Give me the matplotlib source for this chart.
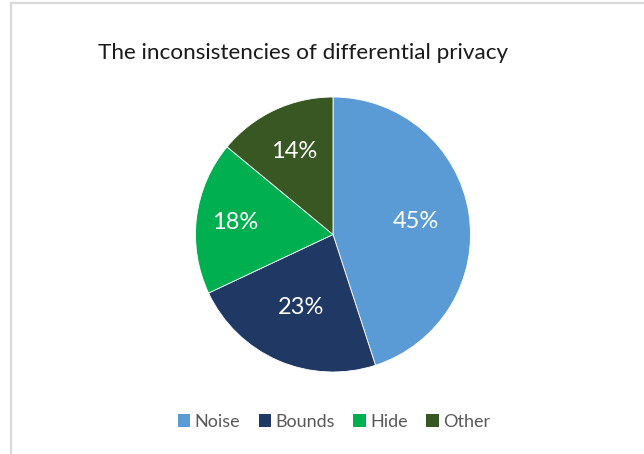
import matplotlib
matplotlib.use("Agg")
import numpy as np
import matplotlib.pyplot as plt
from matplotlib.lines import Line2D
from matplotlib.patches import Patch

plt.rcParams['font.family'] = ['Lato', 'DejaVu Sans']

categories = ["Noise", "Bounds", "Hide", "Other"]
shares = [45, 23, 18, 14]
colors = ["#5B9BD5", "#203864", "#00B050", "#385723"]
title = "The inconsistencies of differential privacy"

W, H = 644, 454
fig = plt.figure(figsize=(W / 100, H / 100), dpi=100)
fig.patch.set_facecolor("white")

# chart area frame (top and left edges)
fig.add_artist(Line2D([11 / W, 1], [1 - 3 / H, 1 - 3 / H], color="#d9d9d9", lw=1.6, transform=fig.transFigure))
fig.add_artist(Line2D([11 / W, 11 / W], [0, 1 - 3 / H], color="#d9d9d9", lw=1.6, transform=fig.transFigure))

cx, cy, r = 333, 234.5, 137.5
ax = fig.add_axes([(cx - r) / W, (H - cy - r) / H, 2 * r / W, 2 * r / H])
wedges, texts, autotexts = ax.pie(
    shares,
    colors=colors,
    startangle=90,
    counterclock=False,
    radius=1,
    autopct=lambda p: f"{p:.0f}%",
    pctdistance=0.6,
    wedgeprops=dict(edgecolor="white", linewidth=0.6),
    textprops=dict(color="white", fontsize=17, fontweight="normal"),
)

# per-slice label distance from the centre
label_dist = [0.61, 0.58, 0.72, 0.67]
for w, t, d in zip(wedges, autotexts, label_dist):
    ang = np.deg2rad((w.theta1 + w.theta2) / 2)
    t.set_position((d * np.cos(ang), d * np.sin(ang)))

ax.set_xlim(-1, 1)
ax.set_ylim(-1, 1)
ax.set_aspect("equal")
ax.axis("off")

fig.text(303 / W, 1 - 53 / H, title, ha="center", va="center", fontsize=16.2,
         fontweight="normal", color="#1a1a1a")

handles = [Patch(facecolor=c, edgecolor="none") for c in colors]
fig.legend(handles, categories, loc="center", bbox_to_anchor=(334 / W, 1 - 422 / H),
           ncol=4, frameon=False, fontsize=13, handlelength=0.7, handleheight=0.7,
           handletextpad=0.25, columnspacing=1.0, labelcolor="#595959")

fig.savefig("out.png", dpi=100, facecolor="white")
